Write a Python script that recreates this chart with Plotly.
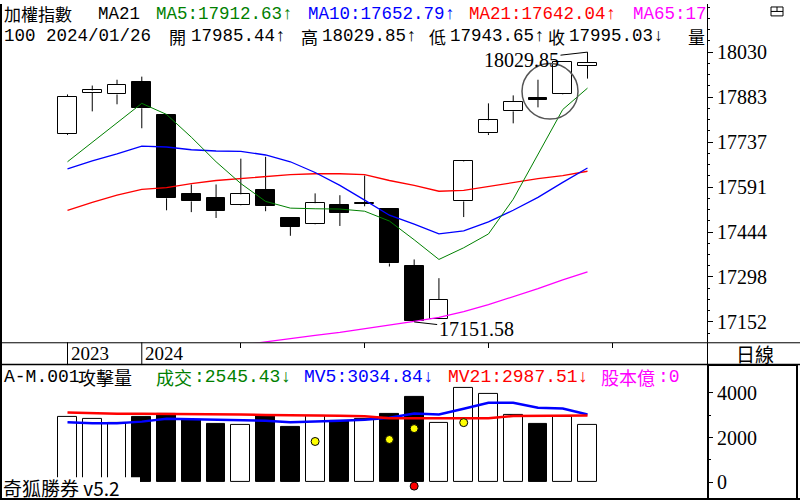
import plotly.graph_objects as go

# ---------------- data ----------------
dates = ["2023/12/27", "2023/12/28", "2023/12/29", "2024/01/02", "2024/01/03", "2024/01/04",
         "2024/01/05", "2024/01/08", "2024/01/09", "2024/01/10", "2024/01/11", "2024/01/12",
         "2024/01/15", "2024/01/16", "2024/01/17", "2024/01/18", "2024/01/19", "2024/01/22",
         "2024/01/23", "2024/01/24", "2024/01/25", "2024/01/26"]
opens = [17763, 17898, 17892, 17934, 17824, 17567, 17554, 17532, 17580, 17490, 17470, 17532,
         17536, 17519, 17335, 17162, 17544, 17766, 17837, 17882, 17892, 17985.44]
highs = [17892, 17921, 17940, 17950, 17826, 17599, 17599, 17683, 17689, 17493, 17570, 17564,
         17628, 17520, 17355, 17294, 17677, 17863, 17889, 17940, 17999, 18029.85]
lows = [17760, 17837, 17860, 17782, 17515, 17509, 17490, 17531, 17512, 17432, 17469, 17464,
        17528, 17332, 17151.58, 17161, 17493, 17760, 17798, 17850, 17891, 17943.65]
closes = [17885, 17905, 17924, 17847, 17554, 17544, 17512, 17567, 17528, 17461, 17538, 17506,
          17540, 17342, 17155, 17223, 17674, 17808, 17869, 17874, 17998, 17995.03]
ma5 = [17673, 17737, 17798, 17863, 17827, 17753, 17673, 17602, 17544, 17522, 17520, 17519,
       17512, 17480, 17419, 17355, 17393, 17438, 17551, 17699, 17843, 17912.63]
ma10 = [17650, 17676, 17699, 17724, 17721, 17712, 17708, 17707, 17695, 17673, 17638, 17596,
        17548, 17499, 17470, 17438, 17448, 17477, 17515, 17557, 17606, 17652.79]
ma21 = [17515, 17541, 17564, 17583, 17589, 17602, 17612, 17618, 17625, 17631, 17634, 17634,
        17631, 17612, 17596, 17577, 17580, 17593, 17606, 17618, 17628, 17642.04]
ma65 = [17046.7, 17053.1, 17058.0, 17062.8, 17066.0, 17069.2, 17072.5, 17075.7, 17087.0,
        17098.3, 17108.0, 17117.7, 17129.0, 17140.3, 17153.2, 17166.1, 17185.5, 17208.1,
        17233.9, 17259.8, 17288.8, 17314.7]
volume = [2933, 2844, 2667, 2933, 3067, 2800, 2622, 2578, 2978, 2489, 2978, 2756, 2844, 3067,
          3822, 2667, 4222, 3956, 3022, 2622, 2933, 2545.43]
mv5 = [2680, 2636, 2636, 2711, 2844, 2822, 2787, 2787, 2756, 2689, 2711, 2756, 2800, 2889,
       3080, 3036, 3289, 3556, 3556, 3333, 3302, 3034.84]
mv21 = [3124, 3080, 3067, 3067, 3067, 3036, 3036, 3036, 3009, 3009, 2978, 2978, 2947, 2858,
        2858, 2858, 2858, 2858, 2964, 2964, 2964, 2987.51]
signal_idx = [10, 13, 14, 16]
signal_val = [1822, 1911, 2400, 2667]
alert_idx = [14]
alert_val = [-178]
price_ticks = [17151.58, 17297.96, 17444.34, 17590.71, 17737.09, 17883.47, 18029.85]
price_tick_text = ["17152", "17298", "17444", "17591", "17737", "17883", "18030"]
vol_ticks = [0, 2000, 4000]
vol_tick_text = ["0", "2000", "4000"]
year_start_idx = [0, 3]
year_labels = ["2023", "2024"]
week_tick_idx = [7, 12, 17, 22]
share_capital = 0

# ---------------- helpers ----------------
W, H = 800, 500
def px(x):
    return x / W
def py(y):
    return 1 - y / H

MONO = "Liberation Mono"
CJK = "Noto Sans CJK TC"
SERIF = "Liberation Serif"
GREEN, BLUE, RED, MAG = "#008000", "#0000FF", "#FF0000", "#FF00FF"

idx = list(range(len(dates)))
up = [c >= o for o, c in zip(opens, closes)]
fill = ["white" if u else "black" for u in up]

fig = go.Figure()

# wicks (upper and lower segments, so they never cross a body)
wx, wy = [], []
for i in idx:
    top, bot = max(opens[i], closes[i]), min(opens[i], closes[i])
    wx += [i, i, None, i, i, None]
    wy += [top, highs[i], None, lows[i], bot, None]
fig.add_trace(go.Scatter(x=wx, y=wy, mode="lines", line=dict(color="black", width=1),
                         xaxis="x", yaxis="y", hoverinfo="skip"))
# bodies
fig.add_trace(go.Bar(x=idx, y=[abs(c - o) for o, c in zip(opens, closes)],
                     base=[min(o, c) for o, c in zip(opens, closes)], width=0.76,
                     marker=dict(color=fill, line=dict(color="black", width=1)),
                     xaxis="x", yaxis="y", hoverinfo="skip"))
# moving averages
for vals, col, wd in [(ma65, MAG, 1.3), (ma21, RED, 1.3), (ma10, BLUE, 1.3), (ma5, GREEN, 1)]:
    fig.add_trace(go.Scatter(x=idx, y=vals, mode="lines", line=dict(color=col, width=wd),
                             xaxis="x", yaxis="y", hoverinfo="skip"))

# volume
fig.add_trace(go.Bar(x=idx, y=volume, width=0.76,
                     marker=dict(color=fill, line=dict(color="black", width=1)),
                     xaxis="x2", yaxis="y2", hoverinfo="skip"))
fig.add_trace(go.Scatter(x=idx, y=mv5, mode="lines", line=dict(color=BLUE, width=2.5),
                         xaxis="x2", yaxis="y2", hoverinfo="skip"))
fig.add_trace(go.Scatter(x=idx, y=mv21, mode="lines", line=dict(color=RED, width=2.5),
                         xaxis="x2", yaxis="y2", hoverinfo="skip"))
fig.add_trace(go.Scatter(x=signal_idx, y=signal_val, mode="markers",
                         marker=dict(color="#FFFF00", size=8, line=dict(color="black", width=1)),
                         xaxis="x2", yaxis="y2", hoverinfo="skip"))
fig.add_trace(go.Scatter(x=alert_idx, y=alert_val, mode="markers",
                         marker=dict(color="#FF0000", size=8, line=dict(color="black", width=1)),
                         xaxis="x2", yaxis="y2", hoverinfo="skip"))

X_RANGE = [-2.726, 25.826]
XDOM = [0, px(707)]
fig.update_layout(
    width=W, height=H, margin=dict(l=0, r=0, t=0, b=0), autosize=False,
    paper_bgcolor="white", plot_bgcolor="white", showlegend=False, hovermode=False,
    xaxis=dict(domain=XDOM, range=X_RANGE, anchor="y", showgrid=False, zeroline=False,
               showticklabels=False, ticks="outside", ticklen=5, tickcolor="black",
               tickmode="array", tickvals=week_tick_idx, showline=False),
    yaxis=dict(domain=[py(341), 1], range=[17085.4, 18186.45], side="right", anchor="x",
               showgrid=False, zeroline=False, showline=True, linecolor="black", linewidth=1,
               tickmode="array", tickvals=price_ticks, ticktext=price_tick_text,
               ticks="outside", ticklen=5, tickcolor="black",
               tickfont=dict(family=SERIF, size=20, color="black"),
               minor=dict(tickmode="linear", tick0=17151.58, dtick=36.59, ticks="outside",
                          ticklen=2, tickcolor="black")),
    xaxis2=dict(domain=XDOM, range=X_RANGE, anchor="y2", showgrid=False, zeroline=False,
                showticklabels=False, ticks="", showline=False),
    yaxis2=dict(domain=[py(497), py(385)], range=[-666.7, 4311.1], side="right", anchor="x2",
                showgrid=False, zeroline=False, showline=False,
                tickmode="array", tickvals=vol_ticks, ticktext=vol_tick_text,
                ticks="outside", ticklen=5, tickcolor="black",
                tickfont=dict(family=SERIF, size=20, color="black"),
                minor=dict(tickmode="linear", tick0=0, dtick=1000, ticks="outside",
                           ticklen=3, tickcolor="black")),
    bargap=0,
)

shapes = []
def pline(x0, y0, x1, y1, w=1, color="black"):
    shapes.append(dict(type="line", xref="paper", yref="paper", x0=px(x0), y0=py(y0),
                       x1=px(x1), y1=py(y1), line=dict(color=color, width=w)))

# white backing for the footer label (covers the volume bars)
shapes.append(dict(type="rect", xref="paper", yref="paper", x0=0, x1=px(140),
                   y0=py(498), y1=py(477), fillcolor="white", line=dict(width=0)))
pline(1, 0, 1, 500, 2)
pline(0, 499, 800, 499, 2)
pline(0, 341.5, 800, 341.5, 1)
pline(0, 363.5, 800, 363.5, 1.5)
pline(707.5, 341, 707.5, 364, 1)
shapes.append(dict(type="rect", xref="paper", yref="paper", x0=px(708), x1=px(797),
                   y0=py(499), y1=py(364), line=dict(color="black", width=2)))
for i in year_start_idx:
    shapes.append(dict(type="line", xref="x", yref="paper", x0=i, x1=i, y0=py(364), y1=py(341),
                       line=dict(color="black", width=1)))
# highlight circle
shapes.append(dict(type="circle", xref="paper", yref="paper", x0=px(522), x1=px(578),
                   y0=py(116), y1=py(60), line=dict(color="#555555", width=1.5)))
# window icon
shapes.append(dict(type="rect", xref="paper", yref="paper", x0=px(771), x1=px(783),
                   y0=py(12), y1=py(3), line=dict(color="black", width=1)))
pline(771, 7.5, 783, 7.5, 1)
pline(777, 3, 777, 7.5, 1)
fig.update_layout(shapes=shapes)

ann = []
def txt(x, y, s, color="black", family=MONO, size=17.5, **kw):
    d = dict(xref="paper", yref="paper", x=px(x), y=py(y), text=s, showarrow=False,
             xanchor="left", yanchor="middle", font=dict(family=family, size=size, color=color),
             borderpad=0)
    d.update(kw)
    ann.append(d)

last = len(dates) - 1
Y1, Y2 = 10, 32.3
# header line 1
txt(3, Y1, "加權指數", family=CJK, size=17)
txt(97, Y1, "MA21")
txt(155, Y1, f"MA5:{ma5[last]:.2f}↑", GREEN)
txt(307, Y1, f"MA10:{ma10[last]:.2f}↑", BLUE)
txt(468, Y1, f"MA21:{ma21[last]:.2f}↑", RED)
txt(632, Y1, f"MA65:{ma65[last]:.2f}"[:7], MAG)
# header line 2
txt(3, Y2, "100 " + dates[last])
txt(168, Y2, "開", family=CJK, size=17)
txt(190, Y2, f"{opens[last]:.2f}↑")
txt(300, Y2, "高", family=CJK, size=17)
txt(321, Y2, f"{highs[last]:.2f}↑")
txt(428, Y2, "低", family=CJK, size=17)
txt(449, Y2, f"{lows[last]:.2f}↑")
txt(547, Y2, "收", family=CJK, size=17)
txt(568, Y2, f"{closes[last]:.2f}↓")
txt(687, Y2, "量", family=CJK, size=17)
# volume header
YV = 376
txt(3, YV, "A-M.001", size=18)
txt(77, YV, "攻擊量", family=CJK, size=18)
txt(155, YV, "成交", GREEN, family=CJK, size=18)
txt(193, YV, f":{volume[last]:.2f}↓", GREEN, size=18)
txt(303, YV, f"MV5:{mv5[last]:.2f}↓", BLUE, size=18)
txt(447, YV, f"MV21:{mv21[last]:.2f}↓", RED, size=18)
txt(600, YV, "股本億", MAG, family=CJK, size=18)
txt(657, YV, f":{share_capital}", MAG, size=18)
# date strip
for i, lab in zip(year_start_idx, year_labels):
    ann.append(dict(xref="x", yref="paper", x=i, y=py(352.5), text=lab, showarrow=False,
                    xanchor="left", yanchor="middle", xshift=1,
                    font=dict(family=SERIF, size=19, color="black")))
txt(735, 352.5, "日線", family=CJK, size=19)
# footer
txt(2, 487.5, "奇狐勝券 v5.2", family=CJK, size=19)
# high / low markers
hi = highs.index(max(highs))
lo = lows.index(min(lows))
ann.append(dict(xref="x", yref="y", x=hi, y=highs[hi], text=f"{highs[hi]:.2f}",
                showarrow=True, arrowhead=0, arrowwidth=1, arrowcolor="black", ax=-66, ay=7.5,
                font=dict(family=SERIF, size=20, color="black")))
ann.append(dict(xref="x", yref="y", x=lo, y=lows[lo], text=f"{lows[lo]:.2f}",
                showarrow=True, arrowhead=0, arrowwidth=1, arrowcolor="black", ax=62, ay=7,
                font=dict(family=SERIF, size=20, color="black")))
fig.update_layout(annotations=ann)

fig.write_html("out.html")
